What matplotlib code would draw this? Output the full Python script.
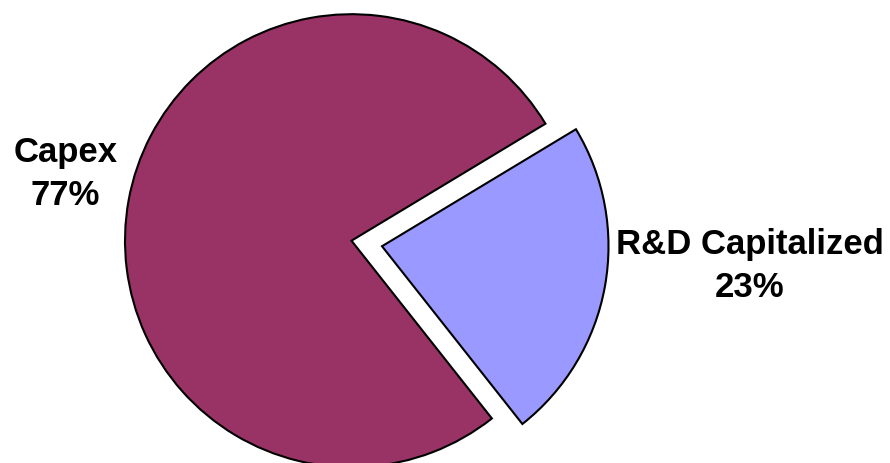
import matplotlib.pyplot as plt

labels = ['R&D Capitalized', 'Capex']
values = [23, 77]
colors = ['#9999FF', '#993366']
explode = [31, 0]  # pie explode is in data units here

plt.rcParams['font.family'] = ['Liberation Sans', 'DejaVu Sans']

fig = plt.figure(figsize=(8.9, 4.63), dpi=100)
ax = fig.add_axes([0, 0, 1, 1])

# pixel-ish coords, y measured from bottom
ax.pie(values, colors=colors, explode=explode, startangle=-51.7,
       center=(351.5, 463 - 240.7), radius=226.5, frame=True,
       wedgeprops=dict(edgecolor='black', linewidth=1.5))
ax.set_xlim(0, 890)
ax.set_ylim(0, 463)
ax.set_aspect('equal')
ax.axis('off')

pct = [f'{v}%' for v in values]
ax.text(750, 463 - 266, labels[0] + '\n' + pct[0], ha='center', va='center',
        fontsize=25, fontweight='bold', linespacing=1.42)
ax.text(65.5, 463 - 174, labels[1] + '\n' + pct[1], ha='center', va='center',
        fontsize=25, fontweight='bold', linespacing=1.42)

fig.savefig('out.png', dpi=100)
